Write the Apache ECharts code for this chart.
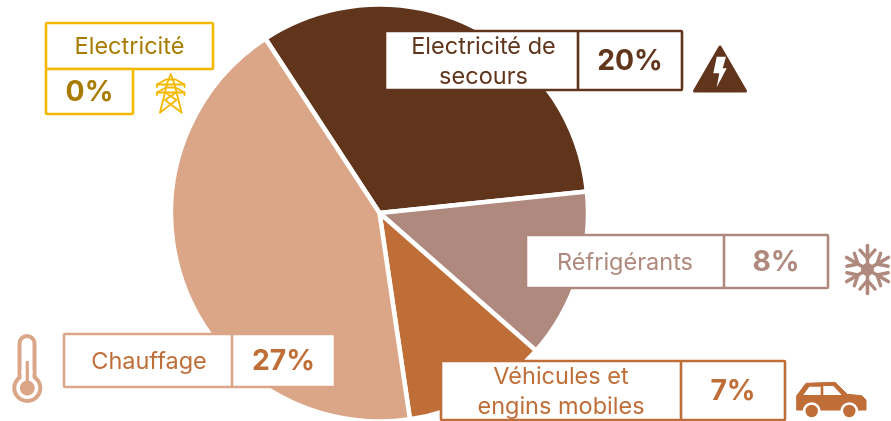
<!DOCTYPE html>
<html>
<head>
<meta charset="utf-8">
<style>
  html, body { margin: 0; padding: 0; background: #fff; }
  #main { width: 891px; height: 421px; }
</style>
<script src="https://cdn.jsdelivr.net/npm/echarts@6/dist/echarts.min.js"></script>
</head>
<body>
<div id="main"></div>
<script>
var categories = ["Electricité", "Electricité de\nsecours", "Réfrigérants", "Véhicules et\nengins mobiles", "Chauffage"];
// slice sizes, the printed labels are rounded
var values = [0, 20.1, 8.1, 6.9, 26.6];
var percentLabels = ["0%", "20%", "8%", "7%", "27%"];
var colors = ["#f5b800", "#61351c", "#af897d", "#bf6e38", "#dba687"];
var textColors = ["#a87c00", "#61351c", "#af897d", "#bf6e38", "#bf6e38"];

var FONT = "Inter, 'Noto Sans', sans-serif";
var LINE = 2.6;

// label box outlines, same order as categories
var boxes = [
  { x: 46, y: 23, w: 167, h: 46, vx: 46, vy: 69, vw: 87, vh: 45, stacked: true },
  { x: 385, y: 31, w: 297, h: 59, div: 578, dx: 2 },
  { x: 526, y: 235, w: 302, h: 53, div: 724 },
  { x: 441, y: 361, w: 344, h: 59, div: 681 },
  { x: 64, y: 334, w: 271, h: 53, div: 232, dx: 1 }
];

function boxRect(x, y, w, h, color) {
  return {
    type: "rect", z: 10,
    shape: { x: x, y: y, width: w, height: h, r: 1 },
    style: { fill: "#fff", stroke: color, lineWidth: LINE }
  };
}
function boxText(str, x, y, size, weight, color) {
  return {
    type: "text", z: 11, x: x, y: y,
    style: {
      text: str, fill: color, font: weight + " " + size + "px " + FONT,
      align: "center", verticalAlign: "middle", lineHeight: 30
    }
  };
}

function buildBoxes() {
  var out = [];
  boxes.forEach(function (b, i) {
    var color = colors[i], tc = textColors[i], pct = percentLabels[i];
    out.push(boxRect(b.x, b.y, b.w, b.h, color));
    if (b.stacked) {
      out.push(boxRect(b.vx, b.vy, b.vw, b.vh, color));
      out.push(boxText(categories[i], b.x + b.w / 2, b.y + b.h / 2 + 1, 23.5, 400, tc));
      out.push(boxText(pct, b.vx + b.vw / 2, b.vy + b.vh / 2 + 0.5, 28.3, 700, tc));
    } else {
      out.push({
        type: "line", z: 11,
        shape: { x1: b.div, y1: b.y, x2: b.div, y2: b.y + b.h },
        style: { stroke: color, lineWidth: LINE }
      });
      out.push(boxText(categories[i], (b.x + b.div) / 2 + (b.dx || 0), b.y + b.h / 2 + 1, 23.5, 400, tc));
      out.push(boxText(pct, (b.div + b.x + b.w) / 2, b.y + b.h / 2 + 0.5, 28.3, 700, tc));
    }
  });
  return out;
}

function stroke(points, color, width) {
  return {
    type: "polyline", z: 12,
    shape: { points: points },
    style: { stroke: color, lineWidth: width, fill: null, lineJoin: "round", lineCap: "round" }
  };
}
function fillPoly(points, color, lw) {
  return {
    type: "polygon", z: 12,
    shape: { points: points },
    style: { fill: color, stroke: color, lineWidth: lw || 0, lineJoin: "round" }
  };
}
function circle(cx, cy, r, fill, strokeColor, lw) {
  return {
    type: "circle", z: 13,
    shape: { cx: cx, cy: cy, r: r },
    style: { fill: fill, stroke: strokeColor || null, lineWidth: lw || 0 }
  };
}

function towerIcon() {
  var c = colors[0], w = 1.8;
  return [
    stroke([[160, 112.5], [167, 84], [170.7, 74], [174.5, 84], [181.5, 112.5]], c, w),
    stroke([[160, 112.5], [176.5, 100], [166, 93]], c, w),
    stroke([[181.5, 112.5], [165, 100], [175.5, 93]], c, w),
    stroke([[157, 87], [157, 84.5], [166, 79.5], [175.5, 79.5], [184.5, 84.5], [184.5, 87]], c, w),
    stroke([[157, 84.5], [184.5, 84.5]], c, w),
    stroke([[157, 95], [157, 92.5], [166, 87.5], [175.5, 87.5], [184.5, 92.5], [184.5, 95]], c, w),
    stroke([[157, 92.5], [184.5, 92.5]], c, w)
  ];
}

function boltIcon() {
  var c = colors[1];
  return [
    fillPoly([[720, 47], [694.5, 91], [745.5, 91]], c, 3),
    fillPoly([[716.7, 56.7], [726, 56.7], [722.7, 68.3], [726.7, 68.3], [716.7, 87.3], [719.3, 73.3], [713.3, 73.3]], "#fff")
  ];
}

function snowIcon() {
  var c = colors[2], cx = 867.5, cy = 269.5, out = [];
  [0, 60, 120, 180, 240, 300].forEach(function (deg) {
    var a = deg * Math.PI / 180, s = Math.sin(a), co = -Math.cos(a);
    function p(d, side) { return [cx + s * d - co * side, cy + co * d + s * side]; }
    out.push(stroke([p(0, 0), p(24, 0)], c, 3.6));
    out.push(stroke([p(19.5, -7.5), p(11, 0), p(19.5, 7.5)], c, 3.4));
  });
  out.push(circle(cx, cy, 6.5, c));
  return out;
}

function carIcon() {
  var c = colors[3];
  return [
    fillPoly([[796.7, 395.7], [806, 383.3], [835, 382.3], [847.3, 394.3], [861.7, 395.7], [866, 400], [866, 410], [796.7, 410]], c, 1),
    fillPoly([[803.3, 395], [809.3, 386.7], [820.7, 386.7], [820.7, 395]], "#fff"),
    fillPoly([[823.3, 386], [833.3, 386], [841.7, 395], [823.3, 395]], "#fff"),
    circle(811.7, 411, 7.5, c, "#fff", 2.6),
    circle(849.3, 411, 7.5, c, "#fff", 2.6)
  ];
}

function thermoIcon() {
  var c = colors[4];
  return [
    {
      type: "rect", z: 12,
      shape: { x: 19.5, y: 336, width: 15, height: 48, r: 7.5 },
      style: { fill: "#fff", stroke: c, lineWidth: 4 }
    },
    circle(27.3, 388, 13, "#fff", c, 4),
    { type: "rect", z: 14, shape: { x: 21.5, y: 370, width: 11, height: 10 }, style: { fill: "#fff" } },
    Object.assign(circle(27.3, 388, 7.5, c), { z: 15 }),
    { type: "line", z: 15, shape: { x1: 27.3, y1: 361, x2: 27.3, y2: 385 }, style: { stroke: c, lineWidth: 3.2 } }
  ];
}

var chart = echarts.init(document.getElementById("main"));
var option = {
  animation: false,
  series: [
    {
      type: "pie",
      center: [379.5, 213],
      radius: [0, 208.5],
      startAngle: 123.2,
      clockwise: true,
      silent: true,
      label: { show: false },
      labelLine: { show: false },
      itemStyle: { borderColor: "#fff", borderWidth: 4.5 },
      data: categories.map(function (name, i) {
        return { name: name, value: values[i], itemStyle: { color: colors[i] } };
      })
    }
  ],
  graphic: {
    elements: buildBoxes().concat(towerIcon(), boltIcon(), snowIcon(), carIcon(), thermoIcon())
  }
};
chart.setOption(option);
</script>
</body>
</html>
